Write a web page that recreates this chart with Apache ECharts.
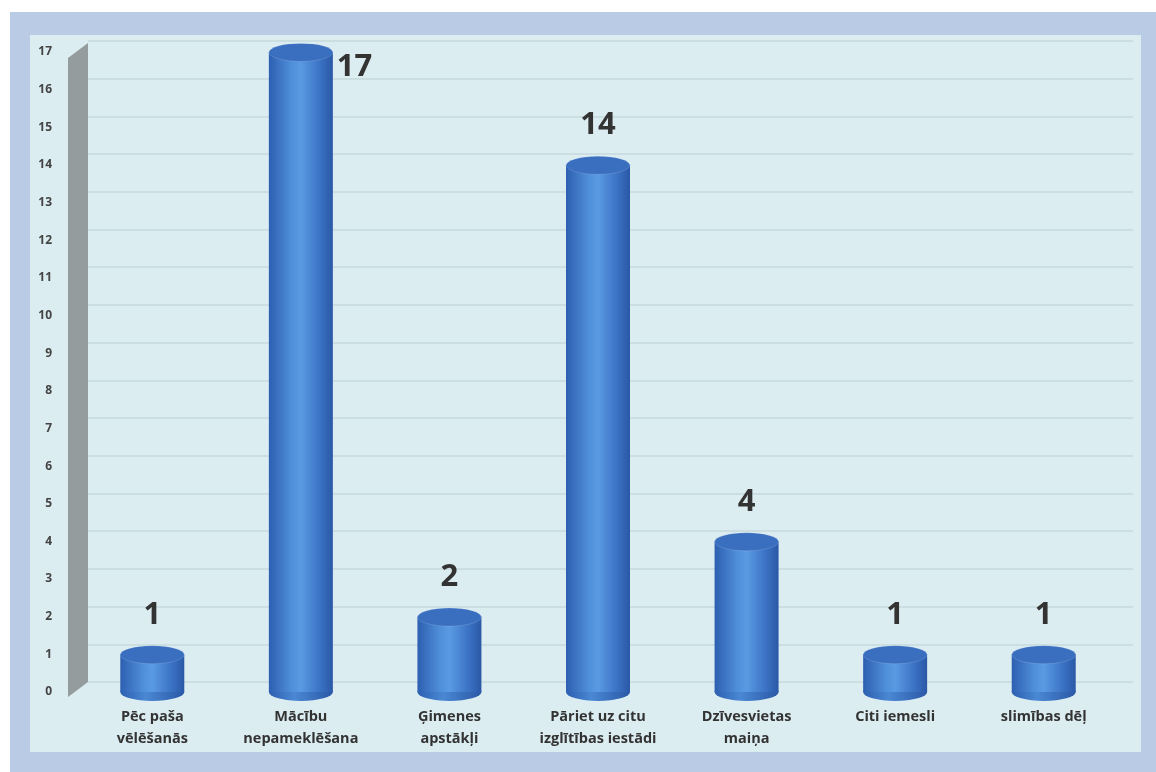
<!DOCTYPE html>
<html><head><meta charset="utf-8">
<script src="https://cdn.jsdelivr.net/npm/echarts@6/dist/echarts.min.js"></script>
<style>html,body{margin:0;padding:0;background:#fff}#c{width:1156px;height:772px}</style>
</head><body><div id="c"></div>
<script>
var categories = ["Pēc paša\nvēlēšanās", "Mācību\nnepameklēšana", "Ģimenes\napstākļi", "Pāriet uz citu\nizglītības iestādi", "Dzīvesvietas\nmaiņa", "Citi iemesli", "slimības dēļ"];
var values = [1, 17, 2, 14, 4, 1, 1];
var yMax = 17;

var chart = echarts.init(document.getElementById('c'));
var maxIdx = values.indexOf(Math.max.apply(null, values));
var bodyGrad = new echarts.graphic.LinearGradient(0, 0, 1, 0, [
  {offset: 0, color: '#2d5fb0'},
  {offset: 0.35, color: '#4f8ed9'},
  {offset: 0.5, color: '#5a9ae3'},
  {offset: 0.8, color: '#3b72c4'},
  {offset: 1, color: '#2a58a6'}
]);
var barData = values.map(function (v, i) {
  if (i === maxIdx) {
    return {value: v, label: {position: ['100%', 0], offset: [4, 0]}};
  }
  return v;
});
chart.setOption({
  backgroundColor: '#ffffff',
  animation: false,
  graphic: [
    {type: 'rect', shape: {x: 10, y: 12, width: 1146, height: 760}, style: {fill: '#b9cbe5'}, z: -10},
    {type: 'rect', shape: {x: 30, y: 35, width: 1111, height: 717}, style: {fill: '#dcedf1'}, z: -9},
    {type: 'polygon', shape: {points: [[68, 58], [88, 43], [88, 682], [68, 697]]}, style: {fill: '#949c9e'}, z: -8}
  ],
  grid: [
    {left: 78, right: 38, top: 52, bottom: 80},
    {left: 88, right: 23, top: 41, bottom: 90}
  ],
  xAxis: [
    {type: 'category', gridIndex: 0, data: categories,
     axisLine: {show: false}, axisTick: {show: false},
     axisLabel: {margin: 14, fontFamily: 'Open Sans', fontWeight: 'bold', fontSize: 14.5, color: '#333', lineHeight: 22, interval: 0}},
    {type: 'category', gridIndex: 1, data: categories, show: false}
  ],
  yAxis: [
    {type: 'value', gridIndex: 0, min: 0, max: yMax, interval: 1,
     splitLine: {show: false}, axisLine: {show: false}, axisTick: {show: false},
     axisLabel: {margin: 26, fontFamily: 'Open Sans', fontWeight: 'bold', fontSize: 12, color: '#444', padding: [10, 0, 0, 0]}},
    {type: 'value', gridIndex: 1, min: 0, max: yMax, interval: 1,
     axisLabel: {show: false}, axisLine: {show: false}, axisTick: {show: false},
     splitLine: {show: true, lineStyle: {color: '#c6d9dd', width: 1.5}}}
  ],
  series: [
    {type: 'bar', xAxisIndex: 0, yAxisIndex: 0, data: barData, barWidth: 64, z: 2,
     itemStyle: {color: bodyGrad},
     label: {show: true, position: 'top', distance: 24, fontFamily: 'Open Sans', fontWeight: 'bold', fontSize: 31, color: '#333'}},
    {type: 'pictorialBar', xAxisIndex: 0, yAxisIndex: 0, data: values, symbol: 'circle', symbolSize: [64, 18],
     symbolPosition: 'end', symbolOffset: [0, '-50%'], z: 4,
     itemStyle: {color: '#3a6fc0', borderColor: '#e8f2ff', borderWidth: 1.5}},
    {type: 'pictorialBar', xAxisIndex: 0, yAxisIndex: 0, data: values, symbol: 'circle', symbolSize: [64, 18],
     symbolPosition: 'start', symbolOffset: [0, '50%'], z: 1,
     itemStyle: {color: new echarts.graphic.LinearGradient(0, 0, 1, 0, [
       {offset: 0, color: '#2d5fb0'}, {offset: 0.4, color: '#4a88d4'}, {offset: 1, color: '#2a58a6'}])}}
  ]
});
</script></body></html>
